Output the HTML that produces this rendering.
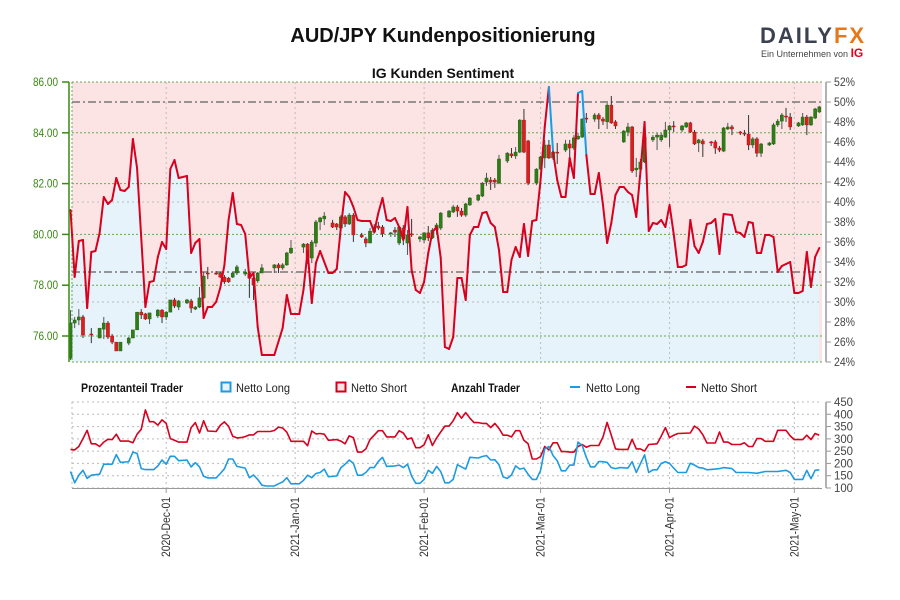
<!DOCTYPE html>
<html><head><meta charset="utf-8"><title>AUD/JPY Kundenpositionierung</title>
<style>
html,body{margin:0;padding:0;background:#fff;width:900px;height:600px;overflow:hidden}
svg{display:block;font-family:"Liberation Sans",Arial,sans-serif}
</style></head><body>
<svg id="chart" width="900" height="600" viewBox="0 0 900 600">
<text x="443" y="42" text-anchor="middle" font-size="20" font-weight="bold" fill="#111">AUD/JPY Kundenpositionierung</text>
<g>
<text x="760" y="43" font-size="22" font-weight="bold" fill="#3c4150" letter-spacing="2">DAILY<tspan fill="#e8771a">FX</tspan></text>
<text x="761" y="57" font-size="9" fill="#444">Ein Unternehmen von <tspan fill="#e3001b" font-weight="bold" font-size="12">IG</tspan></text>
</g>
<text x="443" y="78" text-anchor="middle" font-size="14" font-weight="bold" fill="#111">IG Kunden Sentiment</text>
<g id="main"></g>
<g id="legend" font-size="12">
<text x="81" y="392" font-weight="bold" fill="#111" textLength="102" lengthAdjust="spacingAndGlyphs">Prozentanteil Trader</text>
<rect x="221.5" y="382.5" width="9" height="9" fill="#e6f3fb" stroke="#1e9be0" stroke-width="2"/>
<text x="236" y="392" fill="#222" textLength="54" lengthAdjust="spacingAndGlyphs">Netto Long</text>
<rect x="336.5" y="382.5" width="9" height="9" fill="#fce4e4" stroke="#d0021b" stroke-width="2"/>
<text x="351" y="392" fill="#222" textLength="56" lengthAdjust="spacingAndGlyphs">Netto Short</text>
<text x="451" y="392" font-weight="bold" fill="#111" textLength="69" lengthAdjust="spacingAndGlyphs">Anzahl Trader</text>
<line x1="570" y1="387" x2="580" y2="387" stroke="#1e9be0" stroke-width="2"/>
<text x="586" y="392" fill="#222" textLength="54" lengthAdjust="spacingAndGlyphs">Netto Long</text>
<line x1="686" y1="387" x2="696" y2="387" stroke="#d0021b" stroke-width="2"/>
<text x="701" y="392" fill="#222" textLength="56" lengthAdjust="spacingAndGlyphs">Netto Short</text>
</g>
<g id="lower"></g>
</svg>
<script>
// ---- data (day 0 = 2020-11-08) ----
const monthTickDays = [23, 54, 85, 113, 144, 174];
const monthTickLabels = ["2020-Dec-01","2021-Jan-01","2021-Feb-01","2021-Mar-01","2021-Apr-01","2021-May-01"];
const priceTicks = [86, 84, 82, 80, 78, 76];
const pctTicks = [52,50,48,46,44,42,40,38,36,34,32,30,28,26,24];
const countTicks = [450,400,350,300,250,200,150,100];
const refLevels = [50, 33];

const candleDays = [0,1,2,3,5,7,8,9,10,11,12,14,15,16,17,18,19,21,22,23,24,25,26,28,29,30,31,32,33,35,36,37,38,39,40,42,43,44,45,46,49,50,51,52,53,56,57,58,59,60,61,63,64,65,66,67,68,70,71,72,73,74,75,77,78,79,80,81,82,84,85,86,87,88,89,91,92,93,94,95,96,98,99,100,101,102,103,105,106,107,108,109,110,112,113,114,115,116,117,119,120,121,122,123,124,126,127,128,129,130,131,133,134,135,136,137,138,140,141,142,143,144,145,147,148,149,150,151,152,154,155,156,157,158,159,161,162,163,164,165,166,168,169,170,171,172,173,175,176,177,178,179,180];
const candleOpen = [75.13,76.51,76.63,76.75,76.08,75.92,76.27,76.51,76.00,75.76,75.41,75.72,75.92,76.24,76.94,76.87,76.67,76.79,77.02,76.75,76.94,77.42,77.14,77.30,77.38,77.06,77.14,77.50,78.48,78.48,78.48,78.32,78.28,78.32,78.48,78.44,78.48,78.28,78.17,78.48,78.68,78.80,78.68,78.80,79.27,79.50,79.62,79.07,79.66,80.49,80.61,80.45,80.41,80.25,80.69,80.41,80.76,79.98,79.82,79.66,80.09,80.33,80.29,80.02,80.17,79.66,80.25,79.66,80.02,79.82,79.78,80.06,79.86,80.17,80.25,80.69,80.88,81.08,80.92,80.76,81.16,81.35,81.51,82.06,82.14,82.14,82.02,82.89,83.17,83.09,83.24,84.50,83.68,82.02,82.57,83.01,83.52,83.01,83.24,83.32,83.56,83.40,83.76,83.83,84.58,84.54,84.70,84.54,84.43,85.09,84.43,83.64,84.03,84.23,82.54,82.57,82.85,83.72,83.83,83.72,83.83,84.11,84.27,84.11,84.23,84.39,84.03,83.60,83.68,83.64,83.64,83.40,83.28,84.15,84.23,84.03,83.99,83.95,83.52,83.76,83.20,83.52,83.56,84.31,84.46,84.66,84.62,84.27,84.31,84.62,84.31,84.58,84.82];
const candleHigh = [77.02,76.75,77.06,76.83,76.31,76.31,76.75,76.59,76.08,75.76,75.76,75.96,76.24,76.94,77.06,76.91,76.91,77.06,77.06,76.98,77.42,77.50,77.42,77.46,77.46,77.18,77.93,78.52,78.72,78.56,78.52,78.40,78.32,78.52,78.80,78.64,78.52,78.52,78.52,78.83,78.83,78.87,78.87,79.31,79.78,79.66,79.66,79.78,80.57,80.69,80.88,80.57,80.45,80.76,80.76,80.84,80.84,80.06,79.90,80.25,80.41,80.49,80.37,80.09,80.29,80.33,80.37,80.17,80.61,79.94,80.09,80.33,80.25,80.45,80.88,80.96,81.16,81.16,81.04,81.24,81.47,81.59,82.06,82.42,82.26,82.22,83.13,83.24,83.40,83.44,84.54,84.94,83.72,82.61,83.09,83.72,83.72,83.32,83.60,83.72,83.72,83.91,83.99,84.58,84.78,84.78,84.78,84.62,85.17,85.45,84.50,84.11,84.39,84.27,83.01,82.97,83.87,83.91,83.99,83.99,84.43,84.31,84.46,84.31,84.43,84.43,84.11,83.76,83.76,83.68,83.72,83.48,84.23,84.39,84.31,84.07,84.11,84.70,83.83,83.83,83.60,83.64,84.39,84.54,84.78,84.98,84.78,84.43,84.78,84.70,84.66,84.98,85.06];
const candleLow = [75.05,76.31,76.43,75.92,75.72,75.92,75.88,75.88,75.68,75.41,75.41,75.64,75.92,76.24,76.67,76.63,76.47,76.71,76.51,76.63,76.94,77.10,77.02,77.26,76.91,77.02,77.10,77.46,78.24,78.40,78.28,78.05,78.09,78.28,78.40,78.36,77.50,77.42,78.09,78.48,78.48,78.48,78.60,78.76,79.23,79.27,78.83,78.87,79.50,80.17,80.37,80.25,80.17,80.17,80.29,80.37,79.70,79.86,79.50,79.66,80.02,80.17,79.90,79.90,79.90,79.58,79.58,79.19,79.90,79.70,79.66,79.74,79.82,80.02,80.17,80.65,80.84,80.69,80.69,80.69,81.12,81.31,81.47,81.91,81.75,81.83,81.98,82.81,83.01,82.97,83.20,83.20,81.94,81.94,82.54,82.61,82.97,82.93,82.77,83.24,82.65,83.32,83.72,83.80,84.39,84.43,84.15,84.31,84.15,84.35,84.15,83.60,83.87,82.42,82.26,82.54,82.81,83.64,83.32,83.64,83.80,83.44,84.03,84.03,84.19,83.99,83.52,83.24,83.05,83.48,83.17,83.24,83.24,84.11,83.91,83.91,83.87,83.32,83.40,83.05,83.05,83.48,83.52,84.23,84.15,84.43,84.11,84.23,84.27,83.91,84.27,84.54,84.78];
const candleClose = [76.51,76.63,76.75,76.04,76.04,76.31,76.51,75.96,75.76,75.41,75.76,75.92,76.24,76.94,76.83,76.67,76.91,77.02,76.75,76.94,77.42,77.18,77.38,77.42,77.10,77.14,77.50,78.36,78.44,78.44,78.32,78.13,78.13,78.48,78.72,78.52,78.28,78.01,78.48,78.68,78.80,78.68,78.80,79.27,79.46,79.62,79.07,79.70,80.49,80.65,80.72,80.29,80.29,80.69,80.41,80.76,79.98,79.90,79.66,80.13,80.29,80.25,80.02,80.06,80.09,80.29,79.82,79.98,79.98,79.90,80.06,79.86,80.17,80.37,80.84,80.92,81.08,80.92,80.76,81.20,81.43,81.55,82.02,82.22,82.06,82.06,82.97,83.20,83.09,83.24,84.50,83.24,82.02,82.57,83.05,83.52,83.01,83.24,83.20,83.56,83.40,83.80,83.87,84.54,84.54,84.70,84.54,84.46,85.09,84.39,84.27,84.07,84.23,82.50,82.61,82.85,83.83,83.83,83.91,83.91,84.11,84.27,84.23,84.27,84.39,84.03,83.56,83.72,83.56,83.60,83.40,83.32,84.19,84.23,84.15,83.99,83.95,83.52,83.76,83.20,83.56,83.60,84.31,84.46,84.70,84.62,84.23,84.39,84.62,84.31,84.62,84.94,85.02];

const sentDays = [0,1,2,3,4,5,6,7,8,9,10,11,12,13,14,15,16,18,19,20,21,22,23,24,25,26,28,29,30,31,32,33,34,35,36,37,38,39,40,41,42,43,44,45,46,49,51,52,53,55,56,57,58,59,60,62,63,64,65,66,67,68,69,70,72,73,74,75,76,77,78,79,80,81,82,83,84,85,86,87,88,89,90,91,92,93,94,95,96,97,98,99,100,101,102,103,104,105,106,107,108,109,110,111,112,113,114,115,116,117,118,119,120,121,122,123,124,125,126,127,128,129,130,131,132,133,134,135,136,137,138,139,140,141,142,143,144,145,146,147,148,149,150,151,152,153,154,155,156,157,159,160,161,162,163,164,165,166,167,168,169,170,171,172,173,174,175,176,177,178,179,180];
const sentLongPct = [39.2,32.5,36.1,36.2,29.4,35.0,35.1,36.9,40.5,39.8,40.2,42.4,41.2,41.1,41.5,46.3,43.4,29.5,32.0,32.1,34.5,36.0,35.3,43.3,44.2,42.4,42.6,34.9,35.9,36.3,28.4,29.5,29.5,30.0,31.4,33.7,38.2,40.9,37.8,37.7,36.8,32.4,32.9,27.5,24.7,24.7,27.4,30.7,28.8,28.8,31.2,35.1,29.9,33.9,35.1,32.9,32.9,33.3,37.5,41.0,40.5,39.5,38.2,38.1,38.1,37.0,38.9,40.4,38.2,38.1,38.4,37.5,36.2,39.5,33.2,31.2,30.9,32.0,34.9,37.0,37.5,34.4,25.5,25.3,26.5,32.4,32.4,30.2,36.7,37.5,37.5,38.9,39.0,37.9,37.5,35.2,31.0,31.0,34.2,35.5,34.5,37.8,34.6,38.1,38.2,42.2,47.5,51.5,45.0,42.2,40.5,40.5,44.4,42.4,50.9,51.1,44.7,40.8,40.8,42.9,39.7,35.9,37.9,40.7,41.5,41.5,41.0,40.7,38.5,43.0,48.0,37.1,37.9,37.8,38.2,37.5,39.7,36.8,33.5,33.5,33.7,38.2,35.6,34.9,36.0,37.8,37.9,38.3,34.8,38.8,38.7,37.0,36.9,36.5,38.0,37.9,34.9,34.9,36.7,36.7,36.5,33.0,33.6,33.8,34.0,30.9,30.9,31.1,35.0,31.5,34.5,35.4];

const shortDays = [0,1,2,3,4,5,6,7,8,9,10,11,12,14,15,16,17,18,19,20,21,22,23,24,25,26,28,29,30,31,32,33,35,36,37,38,39,40,41,42,43,44,45,46,48,49,50,51,52,53,54,56,57,58,59,60,61,62,64,65,66,67,68,69,70,71,72,73,74,75,76,78,79,80,81,82,83,84,85,86,87,88,89,90,91,92,93,94,95,96,97,98,99,100,101,102,103,104,105,106,107,108,109,110,111,112,113,114,115,116,117,118,119,120,121,122,123,124,125,127,128,129,130,131,132,134,135,136,137,138,139,141,142,143,144,145,146,149,150,151,152,153,155,156,157,158,159,161,162,163,164,165,166,167,169,170,172,173,174,176,177,178,179,180];
const shortCount = [257,255,269,301,335,280,280,269,287,298,297,319,291,291,284,319,339,418,370,370,356,377,363,301,294,287,287,346,366,324,374,332,330,355,369,351,311,304,305,309,316,316,330,330,330,334,348,344,327,290,290,290,272,332,320,322,319,294,297,291,280,312,305,246,246,259,297,315,333,333,308,308,333,324,298,304,264,264,276,317,273,304,328,352,352,374,407,384,407,384,366,366,363,363,346,363,342,315,315,308,333,333,294,280,218,218,228,269,255,284,284,248,248,246,246,269,277,266,273,273,308,367,315,259,257,257,298,259,259,250,277,280,311,346,305,315,322,324,352,340,317,283,283,328,287,287,277,277,284,269,269,301,301,290,290,335,335,312,297,297,315,297,322,315];
const longDays = [0,1,2,3,4,5,7,8,10,11,12,14,15,16,17,18,20,21,22,23,24,25,26,28,29,30,31,32,33,35,36,37,38,39,40,42,43,44,45,46,47,49,50,51,52,53,55,56,57,58,59,60,61,62,64,65,66,67,68,69,70,71,72,73,74,75,76,78,79,80,81,82,83,84,85,86,87,88,89,90,91,92,93,94,95,96,98,99,100,101,102,103,104,105,106,107,108,109,110,111,112,113,114,115,116,117,118,119,120,121,122,123,124,125,126,127,128,129,130,131,132,134,135,136,138,139,140,141,142,143,144,145,146,148,149,150,151,152,153,155,156,157,158,159,160,163,165,167,170,172,173,174,176,177,178,179,180];
const longCount = [167,121,152,172,139,152,156,197,197,236,204,207,246,241,179,175,175,190,214,197,229,229,211,214,186,203,186,148,141,141,159,178,218,218,188,181,142,153,135,112,108,108,117,125,142,117,117,131,152,142,159,163,177,146,149,183,197,214,201,152,152,163,183,183,208,225,188,190,193,183,197,149,119,119,135,172,160,188,167,121,121,135,195,186,177,225,222,228,232,214,215,195,145,139,153,190,177,181,156,135,135,172,259,269,232,211,170,170,193,193,287,273,225,186,186,208,207,204,183,179,183,181,207,163,235,163,174,174,200,207,200,181,163,163,201,193,183,181,174,177,179,183,181,179,163,163,160,167,167,172,163,135,135,172,138,172,174];

// ---- scales ----
const X0 = 70.5, PXD = 4.16;
const PL = 72, PR = 822, PT = 82, PB = 362;
const LT = 402, LB = 488;
function xScale(d){ return X0 + d*PXD; }
function yPrice(p){ return PT + (86 - p)*25.4; }
function yPct(v){ return PT + (52 - v)*10; }
function yCount(v){ return LB - (v - 100)*(LB-LT)/350; }

const NS = "http://www.w3.org/2000/svg";
function mk(tag, attrs, parent){
  const e = document.createElementNS(NS, tag);
  for (const k in attrs) e.setAttribute(k, attrs[k]);
  parent.appendChild(e); return e;
}
const main = document.getElementById('main');
const lower = document.getElementById('lower');

const bg = mk('rect', {x:PL, y:PT, width:PR-PL, height:PB-PT, fill:'#fce4e4'}, main);



let areaD = 'M' + xScale(sentDays[0]) + ',' + PB;
for (let i=0;i<sentDays.length;i++) areaD += ' L' + xScale(sentDays[i]).toFixed(1) + ',' + yPct(sentLongPct[i]).toFixed(1);
areaD += ' L' + xScale(sentDays[sentDays.length-1]).toFixed(1) + ',' + PB + ' Z';
const area = mk('path', {d:areaD, fill:'#e6f3fb'}, main);



[40,30].forEach(v=>{
  const g = mk('line', {x1:PL, x2:PR, y1:yPct(v), y2:yPct(v), stroke:'#bbb', 'stroke-dasharray':'2,3'}, main);
  
  
});
priceTicks.forEach(p=>{
  const g = mk('line', {x1:PL, x2:PR, y1:yPrice(p), y2:yPrice(p), stroke:'#6aa84f', 'stroke-dasharray':'2,2'}, main);
  
  
});
const bb = mk('line', {x1:PL, x2:PR, y1:PB, y2:PB, stroke:'#6aa84f', 'stroke-dasharray':'2,2'}, main);


const lb = mk('line', {x1:PL, x2:PL, y1:PT, y2:PB, stroke:'#6aa84f', 'stroke-dasharray':'2,2'}, main);


monthTickDays.forEach(d=>{
  const v = mk('line', {x1:xScale(d), x2:xScale(d), y1:PT, y2:PB, stroke:'#bbb', 'stroke-dasharray':'2,3'}, main);
  
  
});
refLevels.forEach(v=>{
  const r = mk('line', {x1:PL, x2:PR, y1:yPct(v), y2:yPct(v), stroke:'#777', 'stroke-width':1.5, 'stroke-dasharray':'8,3,2,3'}, main);
  
  
});

for (let i=0;i<candleDays.length;i++){
  const x = xScale(candleDays[i]);
  const o = candleOpen[i], c = candleClose[i];
  const up = c >= o;
  const g = mk('g', {}, main);
  
  
  mk('line', {x1:x, x2:x, y1:yPrice(candleHigh[i]), y2:yPrice(candleLow[i]), stroke:up?'#555':'#333', 'stroke-width':1}, g);
  const top = yPrice(Math.max(o,c)), bot = yPrice(Math.min(o,c));
  mk('rect', {x:x-1.6, y:top, width:3.2, height:Math.max(1, bot-top), fill:up?'#2f7d17':'#d9201f', stroke:up?'#1f5a10':'#a01010', 'stroke-width':0.4}, g);
}

for (let i=0;i<sentDays.length-1;i++){
  const s = mk('line', {x1:xScale(sentDays[i]), y1:yPct(sentLongPct[i]), x2:xScale(sentDays[i+1]), y2:yPct(sentLongPct[i+1]),
    stroke: sentLongPct[i] > 50 ? '#1e9be0' : '#d7001e', 'stroke-width':2, 'stroke-linecap':'round'}, main);
  
  
}

const la = mk('line', {x1:69, x2:69, y1:PT, y2:PB, stroke:'#3a8a10', 'stroke-width':1.5}, main);


priceTicks.forEach(p=>{
  mk('line', {x1:62, x2:69, y1:yPrice(p), y2:yPrice(p), stroke:'#3a8a10', 'stroke-width':1.5}, main);
  const t = mk('text', {x:58, y:yPrice(p)+4, 'text-anchor':'end', 'font-size':12, fill:'#3a8a10', textLength:25, lengthAdjust:'spacingAndGlyphs'}, main);
  t.textContent = p.toFixed(2);
  
  
});
const ra = mk('line', {x1:826, x2:826, y1:PT, y2:PB, stroke:'#999', 'stroke-width':1.5}, main);


pctTicks.forEach(v=>{
  mk('line', {x1:826, x2:831, y1:yPct(v), y2:yPct(v), stroke:'#999'}, main);
  const t = mk('text', {x:834, y:yPct(v)+4, 'font-size':12, fill:'#444', textLength:21, lengthAdjust:'spacingAndGlyphs'}, main);
  t.textContent = v + '%';
  
  
});

countTicks.forEach(v=>{
  const g = mk('line', {x1:PL, x2:PR, y1:yCount(v), y2:yCount(v), stroke:'#bbb', 'stroke-dasharray':'2,3'}, lower);
  
  
  mk('line', {x1:826, x2:831, y1:yCount(v), y2:yCount(v), stroke:'#999'}, lower);
  const t = mk('text', {x:834, y:yCount(v)+4, 'font-size':12, fill:'#444', textLength:19, lengthAdjust:'spacingAndGlyphs'}, lower);
  t.textContent = v;
  
  
});
const lla = mk('line', {x1:PL, x2:PL, y1:LT, y2:LB, stroke:'#bbb', 'stroke-dasharray':'2,3'}, lower);


const lra = mk('line', {x1:826, x2:826, y1:LT, y2:LB, stroke:'#999', 'stroke-width':1.5}, lower);


const lxa = mk('line', {x1:PL, x2:PR, y1:LB+0.5, y2:LB+0.5, stroke:'#999'}, lower);


monthTickDays.forEach((d,i)=>{
  const x = xScale(d);
  const v = mk('line', {x1:x, x2:x, y1:LT, y2:LB, stroke:'#bbb', 'stroke-dasharray':'2,3'}, lower);
  
  
  mk('line', {x1:x, x2:x, y1:LB, y2:LB+5, stroke:'#999'}, lower);
  const t = mk('text', {x:x+4, y:497, 'text-anchor':'end', 'font-size':12, fill:'#333', textLength:60, lengthAdjust:'spacingAndGlyphs', transform:'rotate(-90 '+(x+4)+' 497)'}, lower);
  t.textContent = monthTickLabels[i];
  
  
});
function linePath(days, vals){
  let d = '';
  for (let i=0;i<days.length;i++) d += (i?' L':'M') + xScale(days[i]).toFixed(1) + ',' + yCount(vals[i]).toFixed(1);
  return d;
}
const sl = mk('path', {d:linePath(shortDays, shortCount), fill:'none', stroke:'#d7001e', 'stroke-width':1.6, 'stroke-linejoin':'round'}, lower);


const ll = mk('path', {d:linePath(longDays, longCount), fill:'none', stroke:'#1e9be0', 'stroke-width':1.6, 'stroke-linejoin':'round'}, lower);


</script>
</body></html>
